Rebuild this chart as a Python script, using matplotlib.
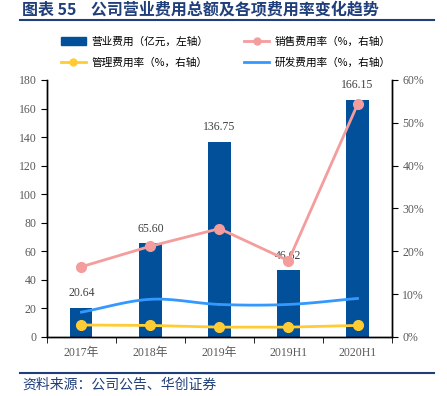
#!/usr/bin/env python3
import numpy as np
import matplotlib.pyplot as plt
from matplotlib.patches import Patch
from matplotlib.lines import Line2D

plt.rcParams["font.family"] = ["Liberation Serif", "Noto Sans CJK SC", "DejaVu Sans"]

categories = ["2017年", "2018年", "2019年", "2019H1", "2020H1"]
expense = [20.64, 65.60, 136.75, 46.62, 166.15]  # 亿元, left axis
sales_rate = [16.4, 21.2, 25.3, 17.8, 54.3]  # %, right axis
admin_rate = [2.8, 2.7, 2.3, 2.3, 2.7]
rd_rate = [5.8, 8.8, 7.6, 7.6, 9.0]

BAR = "#03509A"
PINK = "#F59C9C"
YELLOW = "#FFCC33"
BLUE = "#3399FF"
NAVY = "#1F3E7A"
GRAY = "#595959"


def smooth(x, y, n=30):
    """Catmull-Rom curve through the points, for drawing only."""
    x = np.asarray(x, float)
    y = np.asarray(y, float)
    px = np.concatenate([[2 * x[0] - x[1]], x, [2 * x[-1] - x[-2]]])
    py = np.concatenate([[2 * y[0] - y[1]], y, [2 * y[-1] - y[-2]]])
    xs, ys = [], []
    t = np.linspace(0, 1, n)
    for i in range(1, len(px) - 2):
        for p, out in ((px, xs), (py, ys)):
            p0, p1, p2, p3 = p[i - 1], p[i], p[i + 1], p[i + 2]
            out.extend(0.5 * (2 * p1 + (-p0 + p2) * t
                              + (2 * p0 - 5 * p1 + 4 * p2 - p3) * t ** 2
                              + (-p0 + 3 * p1 - 3 * p2 + p3) * t ** 3))
    return xs, ys


fig = plt.figure(figsize=(4.47, 3.96), dpi=100)
ax = fig.add_axes([0.105, 0.149, 0.772, 0.649])
ax2 = ax.twinx()

x = np.arange(len(categories))
ax.bar(x, expense, width=0.32, color=BAR, zorder=2)
for xi, v in zip(x, expense):
    ax.annotate(f"{v:.2f}", (xi, v), xytext=(0, 6), textcoords="offset points",
                ha="center", va="bottom", fontsize=8.5, color="#404040")

ax.set_xlim(-0.5, len(categories) - 0.5)
ax.set_ylim(0, 180)
ax.set_yticks(range(0, 181, 20))
ax.set_xticks(x)
ax.set_xticklabels(categories)
ax.set_xticks(np.arange(-0.5, len(categories), 1), minor=True)
ax.tick_params(axis="x", which="major", length=0, pad=7, labelsize=8.5, labelcolor=GRAY)
ax.tick_params(axis="x", which="minor", length=4, direction="out")
ax.tick_params(axis="y", length=4, direction="out", labelsize=8.5, labelcolor=GRAY)

ax2.set_ylim(0, 60)
ax2.set_yticks(range(0, 61, 10))
ax2.set_yticklabels([f"{v}%" for v in range(0, 61, 10)])
ax2.tick_params(axis="y", length=4, direction="out", labelsize=8.5, labelcolor=GRAY)

for a in (ax, ax2):
    a.spines["top"].set_visible(False)
    for s in ("left", "right", "bottom"):
        a.spines[s].set_linewidth(1.0)
        a.spines[s].set_color("black")

ax2.plot(x, sales_rate, color=PINK, lw=2, marker="o", ms=7, zorder=3)
ax2.plot(x, admin_rate, color=YELLOW, lw=2, marker="o", ms=7, zorder=3)
sx, sy = smooth(x, rd_rate)
ax2.plot(sx, sy, color=BLUE, lw=2, zorder=3)

handles = [
    Patch(color=BAR),
    Line2D([], [], color=YELLOW, lw=2, marker="o", ms=5),
    Line2D([], [], color=PINK, lw=2, marker="o", ms=5),
    Line2D([], [], color=BLUE, lw=2),
]
labels = ["营业费用（亿元，左轴）", "管理费用率（%，右轴）",
          "销售费用率（%，右轴）", "研发费用率（%，右轴）"]
fig.legend(handles, labels, ncol=2, loc="center", bbox_to_anchor=(0.505, 0.869),
           frameon=False, handlelength=2.4, columnspacing=3.3, handletextpad=0.5,
           labelspacing=1.0, prop={"family": ["Noto Sans CJK SC"], "size": 7.7})

fig.text(0.05, 0.976, "图表 55    公司营业费用总额及各项费用率变化趋势", ha="left", va="center",
         fontsize=11.5, fontweight="bold", color=NAVY, family=["Noto Sans CJK SC"])
fig.add_artist(Line2D([0.045, 0.97], [0.949, 0.949], color=NAVY, lw=1.5))
fig.add_artist(Line2D([0.045, 0.97], [0.057, 0.057], color=NAVY, lw=1.5))
fig.text(0.05, 0.028, "资料来源：公司公告、华创证券", ha="left", va="center",
         fontsize=10, color=NAVY, family=["Noto Sans CJK SC"])

fig.savefig("out.png", dpi=100)
